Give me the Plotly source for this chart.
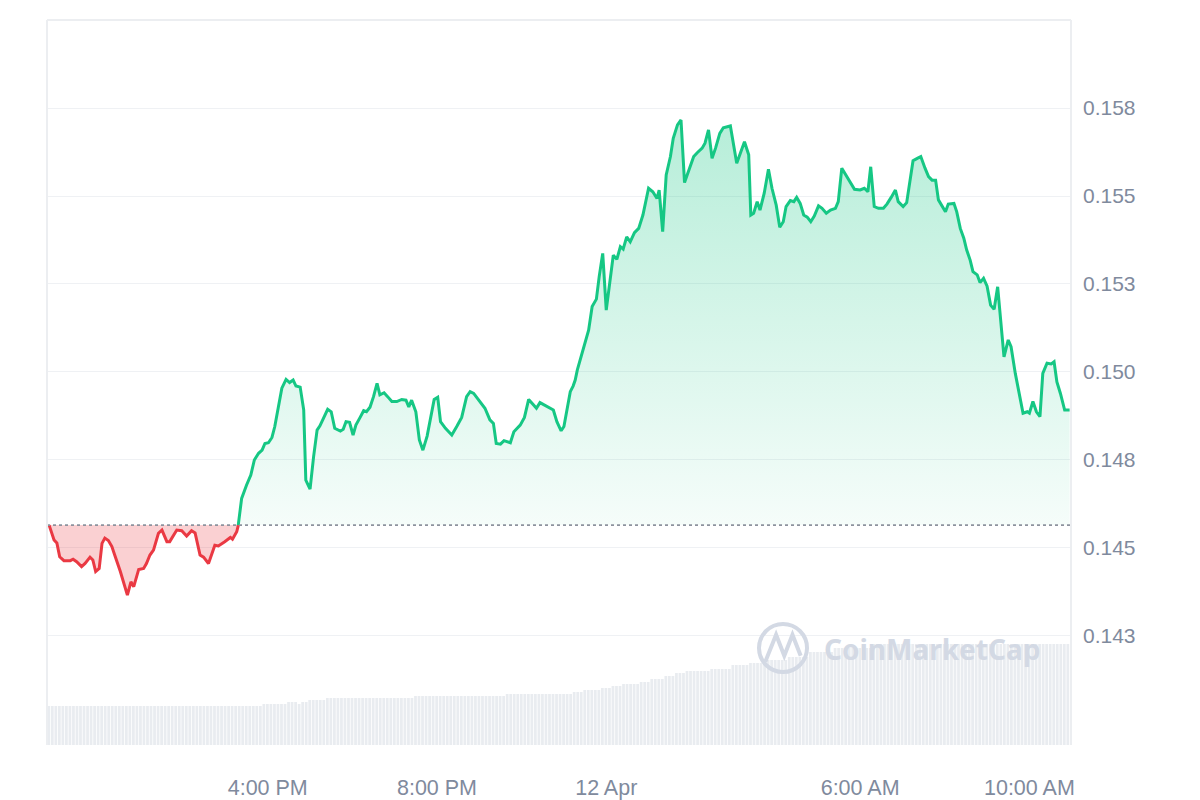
import plotly.graph_objects as go
import pandas as pd
import numpy as np

# ---------------- data ----------------
start_time = "2024-04-11 10:47"
end_minutes = 1452

minutes = [
    3, 7, 10, 14, 18, 24, 33, 37, 42, 49,
    54, 61, 65, 69, 74, 78, 82, 87, 92, 96,
    104, 114, 119, 123, 130, 137, 141, 146, 151, 158,
    163, 170, 174, 184, 191, 198, 205, 210, 217, 222,
    229, 238, 243, 252, 260, 263, 269, 271, 276, 283,
    289, 294, 300, 305, 309, 314, 319, 323, 328, 333,
    339, 344, 349, 353, 359, 364, 367, 373, 378, 383,
    387, 393, 398, 403, 408, 416, 420, 424, 429, 434,
    438, 444, 449, 453, 458, 463, 468, 472, 478, 483,
    489, 496, 503, 509, 513, 517, 523, 528, 533, 539,
    543, 549, 554, 558, 565, 574, 581, 588, 595, 600,
    605, 614, 621, 628, 633, 637, 643, 648, 657, 662,
    671, 677, 683, 690, 694, 699, 709, 718, 723, 729,
    733, 738, 742, 746, 749, 752, 756, 768, 773, 779,
    783, 788, 793, 799, 803, 808, 813, 817, 822, 827,
    833, 839, 845, 853, 859, 865, 868, 873, 878, 884,
    888, 894, 899, 904, 910, 917, 922, 929, 933, 938,
    943, 948, 954, 959, 969, 973, 978, 983, 989, 995,
    998, 1002, 1007, 1011, 1017, 1023, 1028, 1034, 1039, 1044,
    1048, 1054, 1059, 1063, 1068, 1073, 1078, 1083, 1088, 1094,
    1099, 1105, 1111, 1118, 1122, 1127, 1133, 1139, 1145, 1153,
    1159, 1164, 1168, 1173, 1179, 1186, 1191, 1197, 1203, 1207,
    1214, 1219, 1224, 1228, 1234, 1239, 1245, 1250, 1255, 1260,
    1264, 1269, 1274, 1278, 1286, 1290, 1295, 1300, 1304, 1309,
    1313, 1319, 1323, 1328, 1333, 1338, 1343, 1348, 1353, 1357,
    1363, 1367, 1373, 1379, 1384, 1390, 1393, 1398, 1403, 1408,
    1412, 1418, 1424, 1428, 1432, 1437, 1443, 1450,
]

prices = [
    0.14565, 0.14542, 0.14523, 0.14514, 0.14475, 0.14464, 0.14464, 0.14468, 0.14461, 0.14447,
    0.14456, 0.14474, 0.14466, 0.14433, 0.14442, 0.14513, 0.14528, 0.14521, 0.14504, 0.14480,
    0.14433, 0.14366, 0.14404, 0.14390, 0.14439, 0.14442, 0.14456, 0.14480, 0.14494, 0.14542,
    0.14551, 0.14518, 0.14518, 0.14551, 0.14549, 0.14534, 0.14549, 0.14543, 0.14480, 0.14474,
    0.14456, 0.14508, 0.14506, 0.14518, 0.14530, 0.14525, 0.14546, 0.14562, 0.14641, 0.14679,
    0.14707, 0.14750, 0.14769, 0.14778, 0.14797, 0.14799, 0.14814, 0.14845, 0.14901, 0.14954,
    0.14979, 0.14970, 0.14977, 0.14960, 0.14957, 0.14892, 0.14693, 0.14667, 0.14759, 0.14835,
    0.14847, 0.14871, 0.14894, 0.14887, 0.14840, 0.14832, 0.14837, 0.14859, 0.14857, 0.14821,
    0.14849, 0.14871, 0.14890, 0.14887, 0.14900, 0.14930, 0.14968, 0.14935, 0.14941, 0.14930,
    0.14916, 0.14916, 0.14922, 0.14920, 0.14901, 0.14920, 0.14887, 0.14807, 0.14778, 0.14818,
    0.14864, 0.14922, 0.14928, 0.14859, 0.14840, 0.14821, 0.14845, 0.14871, 0.14930, 0.14944,
    0.14939, 0.14916, 0.14897, 0.14864, 0.14854, 0.14797, 0.14795, 0.14805, 0.14799, 0.14830,
    0.14849, 0.14871, 0.14922, 0.14906, 0.14897, 0.14913, 0.14903, 0.14892, 0.14859, 0.14833,
    0.14845, 0.14901, 0.14944, 0.14960, 0.14977, 0.15006, 0.15034, 0.15119, 0.15186, 0.15207,
    0.15271, 0.15337, 0.15176, 0.15261, 0.15332, 0.15320, 0.15356, 0.15349, 0.15384, 0.15370,
    0.15396, 0.15408, 0.15446, 0.15522, 0.15512, 0.15493, 0.15517, 0.15399, 0.15560, 0.15612,
    0.15664, 0.15702, 0.15716, 0.15538, 0.15574, 0.15612, 0.15623, 0.15636, 0.15650, 0.15688,
    0.15607, 0.15636, 0.15678, 0.15694, 0.15699, 0.15650, 0.15593, 0.15621, 0.15654, 0.15617,
    0.15446, 0.15451, 0.15484, 0.15460, 0.15508, 0.15576, 0.15522, 0.15474, 0.15411, 0.15427,
    0.15470, 0.15487, 0.15484, 0.15496, 0.15479, 0.15446, 0.15440, 0.15427, 0.15443, 0.15472,
    0.15465, 0.15451, 0.15460, 0.15465, 0.15484, 0.15579, 0.15560, 0.15541, 0.15519, 0.15517,
    0.15522, 0.15512, 0.15583, 0.15470, 0.15465, 0.15465, 0.15477, 0.15496, 0.15517, 0.15484,
    0.15470, 0.15481, 0.15545, 0.15600, 0.15607, 0.15612, 0.15579, 0.15555, 0.15545, 0.15545,
    0.15489, 0.15470, 0.15455, 0.15477, 0.15479, 0.15455, 0.15408, 0.15380, 0.15347, 0.15318,
    0.15285, 0.15276, 0.15254, 0.15266, 0.15244, 0.15190, 0.15178, 0.15242, 0.15119, 0.15043,
    0.15091, 0.15072, 0.14996, 0.14930, 0.14883, 0.14887, 0.14883, 0.14916, 0.14887, 0.14873,
    0.14996, 0.15025, 0.15023, 0.15029, 0.14972, 0.14939, 0.14892, 0.14892,
]

# volume (millions) as runs of 5-minute bars
vol_levels = [7.8, 8.2, 8.6, 8.2, 8.6, 9.0, 9.4, 9.8, 10.2, 10.6, 11.0, 11.4, 11.8, 12.2,
              12.6, 13.2, 13.8, 14.4, 14.8, 15.2, 16.0, 16.4, 17.0, 17.6, 18.6, 19.4, 20.2]
vol_counts = [61, 7, 3, 1, 2, 5, 25, 26, 19, 3, 5, 3, 3, 5,
              3, 4, 3, 3, 7, 6, 5, 5, 6, 6, 7, 11, 57]

tick_times = ["2024-04-11 16:00", "2024-04-11 20:00", "2024-04-12 00:00",
              "2024-04-12 06:00", "2024-04-12 10:00"]
tick_text = ["4:00 PM", "8:00 PM", "12 Apr", "6:00 AM", "10:00 AM"]

y_tickvals = [0.1425, 0.145, 0.1475, 0.15, 0.1525, 0.155, 0.1575]
y_ticktext = ["0.143", "0.145", "0.148", "0.150", "0.153", "0.155", "0.158"]

# ---------------- build ----------------
assert len(minutes) == len(prices)
start = pd.Timestamp(start_time)
base = prices[0]

# insert baseline crossing points
xs, ys = [], []
for i in range(len(prices)):
    if i > 0:
        p0, p1 = prices[i - 1], prices[i]
        if (p0 - base) * (p1 - base) < 0:
            f = (base - p0) / (p1 - p0)
            xs.append(minutes[i - 1] + f * (minutes[i] - minutes[i - 1]))
            ys.append(base)
    xs.append(minutes[i])
    ys.append(prices[i])
xs = np.array(xs, dtype=float)
ys = np.array(ys, dtype=float)
tx = start + pd.to_timedelta(xs, unit="min")

green_line = np.where(ys >= base, ys, np.nan)
red_line = np.where(ys <= base, ys, np.nan)
green_fill = np.maximum(ys, base)
red_fill = np.minimum(ys, base)
base_arr = np.full_like(ys, base)

vol = np.repeat(vol_levels, vol_counts)
vol_t = start + pd.to_timedelta(np.arange(len(vol)) * 5 + 2.5, unit="min")

GREEN = "#16c784"
RED = "#ea3943"
GRAY = "#808a9d"

fig = go.Figure()

fig.add_trace(go.Bar(x=vol_t, y=vol, yaxis="y2", marker=dict(color="#e9ecf0", line=dict(width=0)),
                     hoverinfo="skip", showlegend=False))

fig.add_trace(go.Scatter(x=tx, y=base_arr, mode="lines", line=dict(width=0), hoverinfo="skip", showlegend=False))
fig.add_trace(go.Scatter(x=tx, y=green_fill, mode="lines", line=dict(width=0), fill="tonexty",
                         fillgradient=dict(type="vertical",
                                           colorscale=[[0, "rgba(22,199,132,0.04)"], [1, "rgba(22,199,132,0.32)"]],
                                           start=base, stop=0.1575),
                         hoverinfo="skip", showlegend=False))
fig.add_trace(go.Scatter(x=tx, y=base_arr, mode="lines", line=dict(width=0), hoverinfo="skip", showlegend=False))
fig.add_trace(go.Scatter(x=tx, y=red_fill, mode="lines", line=dict(width=0), fill="tonexty",
                         fillcolor="rgba(234,57,67,0.24)", hoverinfo="skip", showlegend=False))

fig.add_trace(go.Scatter(x=tx, y=green_line, mode="lines", line=dict(color=GREEN, width=3),
                         connectgaps=False, showlegend=False))
fig.add_trace(go.Scatter(x=tx, y=red_line, mode="lines", line=dict(color=RED, width=3),
                         connectgaps=False, showlegend=False))

end = start + pd.Timedelta(minutes=end_minutes)

shapes = [
    dict(type="line", xref="paper", yref="y", x0=0, x1=1, y0=base, y1=base,
         line=dict(color="#8d939e", width=1.6, dash="dot"), layer="above"),
    dict(type="line", xref="paper", yref="paper", x0=0, x1=1, y0=1, y1=1, line=dict(color="#eceef1", width=2)),
    dict(type="line", xref="paper", yref="paper", x0=0, x1=0, y0=0, y1=1, line=dict(color="#eceef1", width=2)),
    dict(type="line", xref="paper", yref="paper", x0=1, x1=1, y0=0, y1=1, line=dict(color="#eceef1", width=2)),
    # watermark logo ring
    dict(type="circle", xref="paper", yref="paper", x0=0.6953, x1=0.7422, y0=0.1007, y1=0.1669,
         line=dict(color="#d3d9e4", width=4)),
    dict(type="path", xref="paper", yref="paper",
         path="M 0.7015 0.1150 L 0.7120 0.1520 L 0.7200 0.1230 L 0.7280 0.1520 L 0.7360 0.1230",
         line=dict(color="#d3d9e4", width=4)),
]

fig.update_layout(
    width=1200, height=800,
    margin=dict(l=39, r=137, t=12, b=63, autoexpand=False),
    plot_bgcolor="white", paper_bgcolor="white",
    font=dict(family="Liberation Sans, Arial, sans-serif", color=GRAY, size=21),
    showlegend=False,
    bargap=0.22,
    xaxis=dict(type="date", range=[start, end], tickvals=pd.to_datetime(tick_times), ticktext=tick_text,
               showgrid=False, zeroline=False, showline=False, ticks="", ticklabelstandoff=27,
               automargin=False, tickfont=dict(size=21.5, color=GRAY)),
    yaxis=dict(side="right", range=[0.139403, 0.16], tickvals=y_tickvals, ticktext=y_ticktext,
               showgrid=True, gridcolor="#eff1f4", gridwidth=1, zeroline=False, showline=False,
               automargin=False, ticks="", ticklabelstandoff=11, tickfont=dict(size=21, color=GRAY)),
    yaxis2=dict(overlaying="y", range=[0, 145], visible=False, fixedrange=True),
    shapes=shapes,
    annotations=[dict(text="<b>CoinMarketCap</b>", xref="paper", yref="paper", x=0.7568, y=0.1324,
                      xanchor="left", yanchor="middle", showarrow=False,
                      font=dict(family="Noto Sans, sans-serif", size=28, color="#d3d9e4"))],
)

fig.write_html("out.html")
